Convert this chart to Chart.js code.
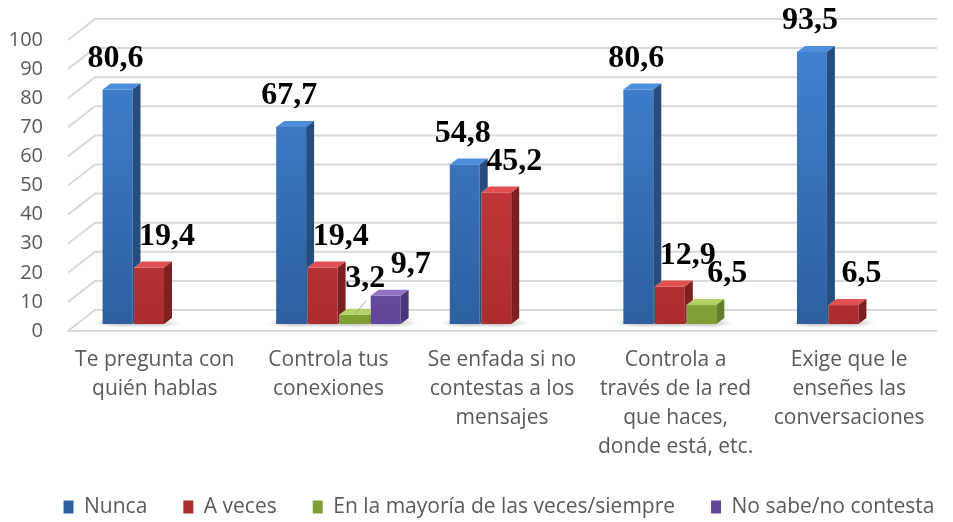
<!DOCTYPE html>
<html>
<head>
<meta charset="utf-8">
<script src="https://cdn.jsdelivr.net/npm/chart.js@4.4.1/dist/chart.umd.min.js"></script>
<style>
  html, body { margin: 0; padding: 0; background: #fff; }
  #wrap { width: 953px; height: 522px; }
</style>
</head>
<body>
<div id="wrap"><canvas id="chart"></canvas></div>
<script>
// Kategorien (mehrzeilig wie im Original)
const categories = [
    ['Te pregunta con', 'quién hablas'],
    ['Controla tus', 'conexiones'],
    ['Se enfada si no', 'contestas a los', 'mensajes'],
    ['Controla a', 'través de la red', 'que haces,', 'donde está, etc.'],
    ['Exige que le', 'enseñes las', 'conversaciones']
];

const seriesNames = ['Nunca', 'A veces', 'En la mayoría de las veces/siempre', 'No sabe/no contesta'];

const nunca   = [80.6, 67.7, 54.8, 80.6, 93.5];
const aVeces  = [19.4, 19.4, 45.2, 12.9, 6.5];
const mayoria = [null, 3.2, null, 6.5, null];
const noSabe  = [null, 9.7, null, null, null];

const yMin = 0;
const yMax = 100;
const yStep = 10;

// Farben pro Serie: Vorderseite oben/unten, Seite, Deckel
const palette = [
    { top: '#4283d4', bottom: '#2d5f9f', side: '#274d7f', lid: '#4d8ddb' },
    { top: '#d94343', bottom: '#ab2c2c', side: '#7f2020', lid: '#e05050' },
    { top: '#a5c957', bottom: '#7f9f36', side: '#637f27', lid: '#b2d466' },
    { top: '#8464bd', bottom: '#614596', side: '#4c3577', lid: '#9274c7' }
];

// 3D-Versatz
const DEPTH_X = 8, DEPTH_Y = -6;      // Tiefe der Säulen
const SHIFT_X = 10, SHIFT_Y = -7;     // Säulen liegen etwas hinter der Vorderkante
const WALL_X = 27, WALL_Y = -21;      // Rückwand
const LABEL_DX = [-2, 18, 26, 25];
const LEGEND_PAD = 36;
const LEGEND_FONT = 21;

function fmt(v) {
    return v.toFixed(1).replace('.', ',');
}

function poly(ctx, pts) {
    ctx.beginPath();
    ctx.moveTo(pts[0][0], pts[0][1]);
    for (let i = 1; i < pts.length; i++) ctx.lineTo(pts[i][0], pts[i][1]);
    ctx.closePath();
    ctx.fill();
}

function frontGradient(index) {
    return (c) => {
        const area = c.chart.chartArea;
        const pal = palette[index];
        if (!area) return pal.top;
        const g = c.chart.ctx.createLinearGradient(0, area.top, 0, area.bottom);
        g.addColorStop(0, pal.top);
        g.addColorStop(1, pal.bottom);
        return g;
    };
}

// Umriss einer Säule (Front + Deckel + Seite)
function outline(bar) {
    const l = bar.x - bar.width / 2, r = bar.x + bar.width / 2;
    return [[l, bar.base], [l, bar.y], [l + DEPTH_X, bar.y + DEPTH_Y],
            [r + DEPTH_X, bar.y + DEPTH_Y], [r + DEPTH_X, bar.base + DEPTH_Y], [r, bar.base]];
}

const seriesData = [nunca, aVeces, mayoria, noSabe];

// Plugin für Rückwand, Schatten, Seitenflächen und Werte
const box3d = {
    id: 'box3d',
    afterLayout(chart) {
        const lg = chart.legend;
        if (!lg) return;
        const a = chart.chartArea;
        const w = lg.right - lg.left, h = lg.bottom - lg.top;
        const cx = (a.left + a.right) / 2 - 3;
        lg.left = cx - w / 2;
        lg.right = cx + w / 2;
        lg.top = chart.height - 15 - LEGEND_PAD - LEGEND_FONT / 2;
        lg.bottom = lg.top + h;
    },
    beforeDatasetsDraw(chart) {
        const { ctx, chartArea: a, scales: { y } } = chart;
        ctx.save();
        ctx.strokeStyle = '#d9d9d9';
        ctx.lineWidth = 2;
        for (let v = yMin; v <= yMax; v += yStep) {
            const yf = y.getPixelForValue(v);
            const yb = yf + WALL_Y;
            ctx.beginPath();
            ctx.moveTo(a.left, yf);
            ctx.lineTo(a.left + WALL_X, yb);
            ctx.lineTo(a.right + 1, yb);
            ctx.stroke();
        }
        const y0 = y.getPixelForValue(0);
        ctx.beginPath();
        ctx.moveTo(a.left, y0);
        ctx.lineTo(a.right + 1, y0);
        ctx.stroke();
        ctx.restore();

        // ab hier alles um die Tiefe verschoben
        ctx.save();
        ctx.translate(SHIFT_X, SHIFT_Y);
        chart.data.datasets.forEach((ds, di) => {
            chart.getDatasetMeta(di).data.forEach((bar, i) => {
                if (ds.data[i] == null) return;
                const cx = bar.x + DEPTH_X / 2, cy = bar.base - 1;
                const rx = bar.width * 0.95, ry = 5;
                const g = ctx.createRadialGradient(cx, cy, 0, cx, cy, rx);
                g.addColorStop(0, 'rgba(0,0,0,0.28)');
                g.addColorStop(1, 'rgba(0,0,0,0)');
                ctx.save();
                ctx.translate(cx, cy);
                ctx.scale(1, ry / rx);
                ctx.translate(-cx, -cy);
                ctx.fillStyle = g;
                ctx.beginPath();
                ctx.arc(cx, cy, rx, 0, Math.PI * 2);
                ctx.fill();
                ctx.restore();
            });
        });
    },
    afterDatasetDraw(chart, args) {
        const ctx = chart.ctx;
        const meta = args.meta;
        const di = meta.index;
        const ds = chart.data.datasets[di];
        const pal = palette[di];
        const nextDs = chart.data.datasets[di + 1];
        const nextMeta = nextDs ? chart.getDatasetMeta(di + 1) : null;
        meta.data.forEach((bar, i) => {
            if (ds.data[i] == null) return;
            const { x, y, width, base } = bar.getProps(['x', 'y', 'width', 'base'], true);
            const l = x - width / 2, r = x + width / 2;
            ctx.save();
            // die rechte Nachbarsäule verdeckt Seite und Deckel
            if (nextDs && nextDs.data[i] != null) {
                const nb = nextMeta.data[i].getProps(['x', 'y', 'width', 'base'], true);
                const pts = outline(nb);
                ctx.beginPath();
                ctx.rect(-50, -50, chart.width + 100, chart.height + 100);
                ctx.moveTo(pts[0][0], pts[0][1]);
                for (let k = 1; k < pts.length; k++) ctx.lineTo(pts[k][0], pts[k][1]);
                ctx.closePath();
                ctx.clip('evenodd');
            }
            ctx.fillStyle = pal.lid;
            poly(ctx, [[l, y], [l + DEPTH_X, y + DEPTH_Y], [r + DEPTH_X, y + DEPTH_Y], [r, y]]);
            ctx.fillStyle = pal.side;
            poly(ctx, [[r, y], [r + DEPTH_X, y + DEPTH_Y], [r + DEPTH_X, base + DEPTH_Y], [r, base]]);
            ctx.restore();
        });
    },
    afterDatasetsDraw(chart) {
        chart.ctx.restore();
    },
    afterDraw(chart) {
        const ctx = chart.ctx;
        ctx.save();
        ctx.font = 'bold 32px "Liberation Serif", "Times New Roman", serif';
        ctx.fillStyle = '#000';
        ctx.textAlign = 'center';
        ctx.textBaseline = 'middle';
        chart.data.datasets.forEach((ds, di) => {
            chart.getDatasetMeta(di).data.forEach((bar, i) => {
                const v = ds.data[i];
                if (v == null) return;
                const bx = bar.x + SHIFT_X, by = bar.y + SHIFT_Y;
                let lx = bx + LABEL_DX[di], ly = by - 31;
                if (v < 5) {
                    lx = bx + 11;
                    ly = by - 36;
                    ctx.strokeStyle = '#a6a6a6';
                    ctx.lineWidth = 1;
                    ctx.beginPath();
                    ctx.moveTo(bx, by);
                    ctx.lineTo(bx + 12, by - 14);
                    ctx.stroke();
                }
                ctx.fillText(fmt(v), lx, ly);
            });
        });
        ctx.restore();
    }
};

const datasets = seriesData.map((values, i) => ({
    label: seriesNames[i],
    data: values,
    backgroundColor: frontGradient(i),
    borderWidth: 0,
    clip: false,
    categoryPercentage: 0.726,
    barPercentage: 0.95
}));

new Chart(document.getElementById('chart'), {
    type: 'bar',
    data: { labels: categories, datasets: datasets },
    options: {
        responsive: true,
        maintainAspectRatio: false,
        animation: false,
        layout: { padding: { top: 40, left: 0, right: 0, bottom: -7 } },
        plugins: {
            tooltip: { enabled: false },
            legend: {
                position: 'bottom',
                labels: {
                    boxWidth: 10,
                    boxHeight: 13,
                    padding: LEGEND_PAD,
                    color: '#595959',
                    font: { family: '"Open Sans"', size: LEGEND_FONT }
                }
            }
        },
        scales: {
            x: {
                grid: { display: false, drawTicks: false },
                border: { display: false },
                ticks: {
                    color: '#595959',
                    font: { family: '"Open Sans"', size: 21, lineHeight: 1.38 },
                    padding: 15,
                    maxRotation: 0
                },
                afterFit(scale) {
                    scale.paddingLeft = 0;
                    scale.paddingRight = 17;
                    scale.height = 131;
                }
            },
            y: {
                min: yMin,
                max: yMax,
                grid: { display: false, drawTicks: false },
                border: { display: false },
                ticks: {
                    stepSize: yStep,
                    autoSkip: false,
                    color: '#595959',
                    font: { family: '"Open Sans"', size: 20, lineHeight: 1 },
                    padding: 25
                },
                afterFit(scale) {
                    scale.width = 68;
                    scale.paddingTop = 0;
                    scale.paddingBottom = 0;
                }
            }
        }
    },
    plugins: [box3d]
});
</script>
</body>
</html>
